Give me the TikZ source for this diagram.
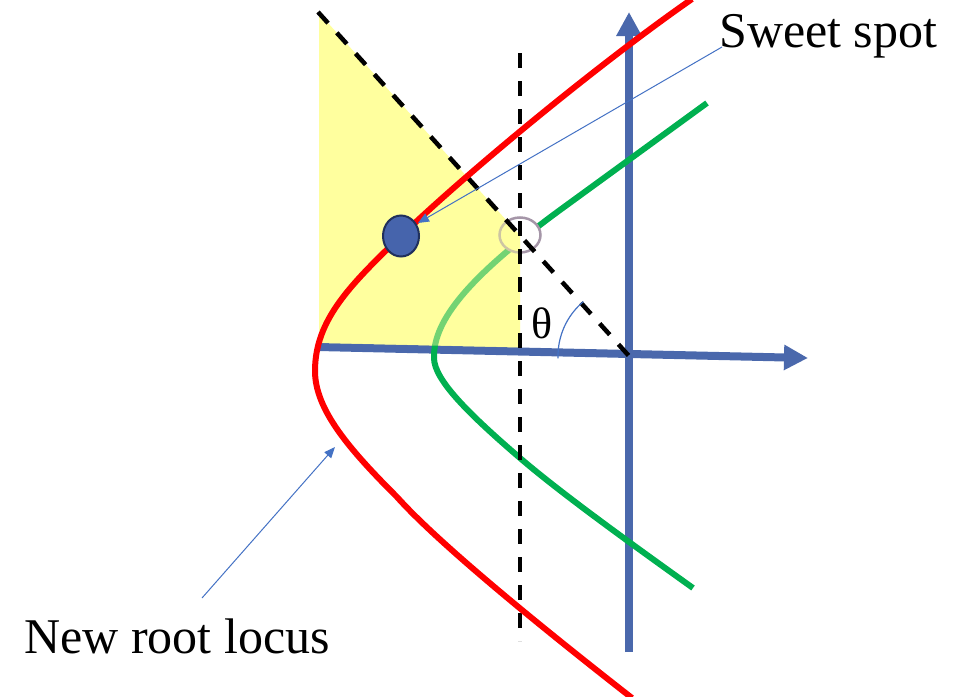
\documentclass[tikz,border=0pt]{standalone}
\usepackage{fontspec}
\setmainfont{Liberation Serif}
\usetikzlibrary{arrows.meta,shapes.geometric,calc}
\definecolor{axisblue}{RGB}{74,104,172}
\definecolor{annblue}{RGB}{68,114,196}
\definecolor{yel}{RGB}{255,255,158}
\definecolor{locred}{RGB}{255,0,0}
\definecolor{locgreen}{RGB}{0,176,80}
\definecolor{dotblue}{RGB}{70,100,172}
\definecolor{dotedge}{RGB}{32,48,92}
\definecolor{ringgray}{RGB}{165,150,168}
\begin{document}
\begin{tikzpicture}[x=1pt,y=-1pt,
  axisline/.style={draw=axisblue, line width=8pt, -{Triangle[length=24pt,width=24pt]}},
  dashline/.style={draw=black, line width=4.5pt, dash pattern=on 15pt off 13pt},
  redlocus/.style={draw=locred, line width=6pt},
  greenlocus/.style={draw=locgreen, line width=6pt},
  annot/.style={draw=annblue, line width=1pt, -{Triangle[length=11pt,width=9pt]}},
  lbl/.style={font=\fontsize{50}{60}\selectfont, inner sep=0pt, text=black},
  thetalbl/.style={font=\fontsize{44}{52}\selectfont, inner sep=0pt, text=black},
  bluedot/.style={ellipse, draw=dotedge, fill=dotblue, line width=2pt, minimum width=36pt, minimum height=41pt, inner sep=0pt},
  ring/.style={ellipse, draw=ringgray, line width=2.5pt, minimum width=41pt, minimum height=35pt, inner sep=0pt}
]
\useasboundingbox (0,0) rectangle (969,696);

% key coordinates
\coordinate (O) at (629,356);
\coordinate (ytop) at (629,12);
\coordinate (ybot) at (629,652);
\coordinate (xl) at (318,347);
\coordinate (xr) at (808,358);
\coordinate (apex) at (318,12);
\coordinate (vtop) at (520,53);
\coordinate (vbot) at (520,641);
\coordinate (meet) at (intersection of apex--O and vtop--vbot);

% yellow region (solid)
\fill[yel] (apex) -- (meet) -- (520,351) -- (319,347) -- (319,12) -- cycle;

% axes
\draw[axisline] (ybot) -- (ytop);
\draw[axisline] (xl) -- (xr);

% green locus
\draw[greenlocus] (707,103) -- (560,210)
  .. controls (470,276) and (433,320) .. (434,358)
  .. controls (434,380) and (470,415) .. (520,458)
  .. controls (563,495) and (640,550) .. (693,588);

% open ring at the old operating point
\node[ring, draw=none, fill=white] (ringfill) at (520,235) {};
\begin{scope}
  \clip (520,235) ellipse [x radius=20.5pt, y radius=17.5pt];
  \fill[yel] (apex) -- (meet) -- (520,351) -- (319,347) -- (319,12) -- cycle;
\end{scope}
\node[ring] (oldpt) at (520,235) {};

% translucent yellow over the green part inside the region
\fill[yel, opacity=0.45] (apex) -- (meet) -- (520,347.5) -- (319,343) -- (319,12) -- cycle;

% dashed lines
\draw[dashline] (vtop) -- (vbot);
\draw[dashline] (apex) -- (O);

% theta arc and label
\draw[annblue, line width=1.2pt] ($(O)+(178:71)$) arc[start angle=178, end angle=230, radius=71];
\node[thetalbl] (theta) at (542,323) {θ};

% red (new) root locus
\draw[redlocus] (692,-1)
  .. controls (600,63) and (470,170) .. (401,236)
  .. controls (350,285) and (315,320) .. (315,371)
  .. controls (315,410) and (350,450) .. (397,497)
  .. controls (440,545) and (545,630) .. (632,698);

% sweet spot dot
\node[bluedot] (dot) at (401,236) {};

% annotations
\node[lbl, anchor=base west] (sweet) at (719,47) {Sweet spot};
\node[lbl, anchor=base west] (newrl) at (24,653) {New root locus};
\coordinate (sstail) at (722,47);
\coordinate (sstip) at (418,223);
\coordinate (nrtail) at (202,598);
\coordinate (nrtip) at (335,447);
\draw[annot] (sstail) -- (sstip);
\draw[annot] (nrtail) -- (nrtip);
\end{tikzpicture}
\end{document}
